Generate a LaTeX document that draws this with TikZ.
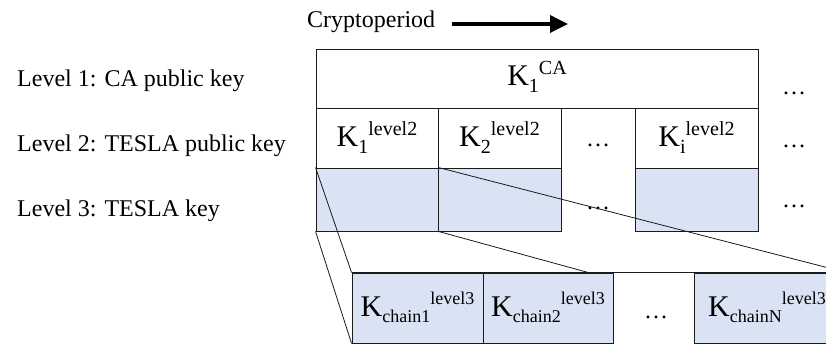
\documentclass[tikz,border=0pt]{standalone}
\usepackage{fontspec}
\setmainfont{Liberation Serif}
\usetikzlibrary{arrows.meta}

% K with a lowered index followed by a raised tag, as in K_1^{CA}
\newcommand\keylabel[3][20]{K\raisebox{-6.5pt}{\fontsize{#1}{#1}\selectfont #2}\raisebox{11pt}{\fontsize{#1}{#1}\selectfont #3}}

\definecolor{keyfill}{HTML}{DAE3F3}
\definecolor{edge}{HTML}{1A1A1A}

\begin{document}
\begin{tikzpicture}[x=1pt,y=-1pt,
  every node/.style={font=\fontsize{24}{28}\selectfont, inner sep=0pt},
  cell/.style={draw=edge, line width=0.9pt, rectangle, minimum height=#1},
  plaincell/.style={cell=#1, fill=white},
  keycell/.style={cell=#1, fill=keyfill},
  keytxt/.style={font=\fontsize{30}{34}\selectfont, anchor=base},
  leveltxt/.style={anchor=base west},
  dots/.style={anchor=center},
  link/.style={draw=edge, line width=0.8pt},
  period/.style={line width=3.5pt, -{Triangle[length=18pt,width=17pt]}}
]
\useasboundingbox (0,0) rectangle (826,344);
\clip (0,0) rectangle (826,344);

% time axis
\node[anchor=base west] (crypto) at (307,28) {Cryptoperiod};
\coordinate (arrS) at (452,24);
\coordinate (arrE) at (568,24);
\draw[period] (arrS) -- (arrE);

% row captions
\node[leveltxt] (lv1) at (17,87)  {Level 1: CA public key};
\node[leveltxt] (lv2) at (17,152) {Level 2: TESLA public key};
\node[leveltxt] (lv3) at (17,217) {Level 3: TESLA key};

% level 1
\node[plaincell=59pt, minimum width=442pt] (ca) at (537,78.5) {};
\node[keytxt] (tca) at (537,86) {\keylabel{1}{CA}};

% level 2
\node[plaincell=60pt, minimum width=122pt] (k21) at (377,138) {};
\node[plaincell=60pt, minimum width=123pt] (k22) at (499.5,138) {};
\node[plaincell=60pt, minimum width=123pt] (k2i) at (696.5,138) {};
\node[keytxt] (t21) at (377,147) {\keylabel{1}{level2}};
\node[keytxt] (t22) at (499.5,147) {\keylabel{2}{level2}};
\node[keytxt] (t2i) at (696.5,147) {\keylabel{i}{level2}};
\node[dots] (d2) at (598,145) {…};

% level 3
\node[keycell=63pt, minimum width=122pt] (k31) at (377,199.5) {};
\node[keycell=63pt, minimum width=123pt] (k32) at (499.5,199.5) {};
\node[keycell=63pt, minimum width=123pt] (k3i) at (696.5,199.5) {};
\node[dots] (d3) at (598,208) {…};

% further periods
\node[dots] (e1) at (794,93)  {…};
\node[dots] (e2) at (794,146) {…};
\node[dots] (e3) at (794,206) {…};

% expanded key chain
\node[keycell=70pt, minimum width=131pt] (b1) at (417.5,308) {};
\node[keycell=70pt, minimum width=130pt] (b2) at (548,308) {};
\node[keycell=70pt, minimum width=152pt] (bN) at (770,308) {};
\draw[link] (b1.north west) -- (bN.north east);
\node[keytxt] (tb1) at (417.5,316) {\keylabel[18]{chain1}{level3}};
\node[keytxt] (tb2) at (548,316) {\keylabel[18]{chain2}{level3}};
\node[keytxt] (tbN) at (767,316) {\keylabel[18]{chainN}{level3}};
\node[dots] (db) at (656,317) {…};

% zoom lines from the first level-3 key to its chain
\coordinate (zoomTop) at (590,273);
\draw[link] (k31.north west) -- (b1.north west);
\draw[link] (k31.south west) -- (b1.south west);
\draw[link] (k31.south east) -- (zoomTop);
\draw[link] (k31.north east) -- (bN.north east);
\end{tikzpicture}
\end{document}
